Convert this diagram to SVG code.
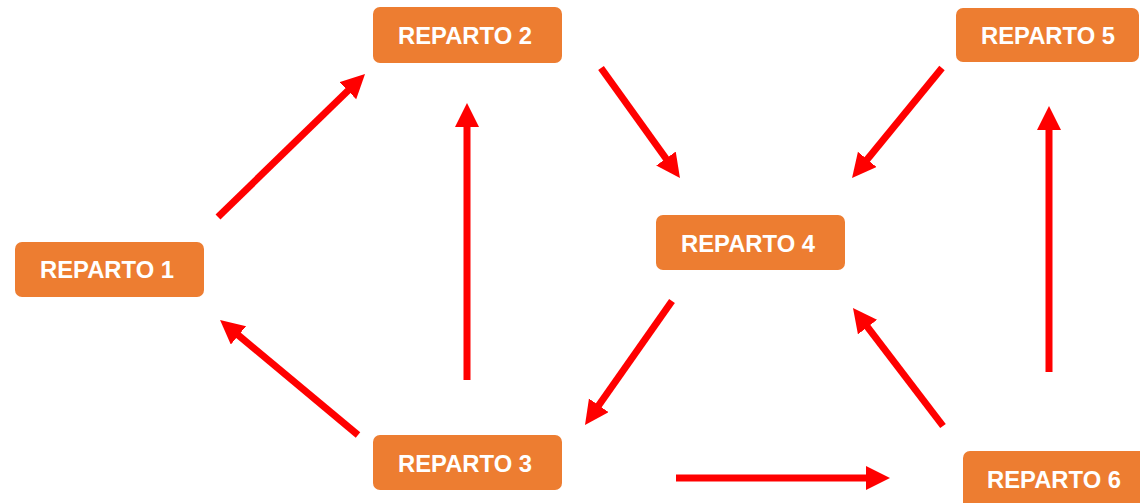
<svg xmlns="http://www.w3.org/2000/svg" width="1140" height="503" viewBox="0 0 1140 503">
  <style>
    .box { fill: #ED7D31; }
    .lbl { fill: #FFFFFF; font-family: "Liberation Sans", Arial, sans-serif; font-weight: bold; font-size: 23.8px; text-anchor: middle; }
    .arrow { stroke: #FF0000; stroke-width: 7; fill: none; marker-end: url(#head); }
  </style>
  <defs>
    <marker id="head" markerUnits="userSpaceOnUse" markerWidth="26" markerHeight="26" refX="4" refY="12" orient="auto">
      <path d="M0,0 L24,12 L0,24 z" fill="#FF0000"/>
    </marker>
  </defs>
  <rect width="1140" height="503" fill="#FFFFFF"/>

  <g id="connectors">
    <line class="arrow" x1="218" y1="217" x2="350.7" y2="87.9"/>
    <line class="arrow" x1="467" y1="380" x2="467" y2="123"/>
    <line class="arrow" x1="601" y1="68" x2="668.3" y2="161.8"/>
    <line class="arrow" x1="942" y1="68" x2="864.7" y2="162.5"/>
    <line class="arrow" x1="672" y1="301" x2="596.5" y2="408.6"/>
    <line class="arrow" x1="358" y1="435" x2="235.4" y2="332.8"/>
    <line class="arrow" x1="943" y1="426" x2="865.1" y2="323.9"/>
    <line class="arrow" x1="1049" y1="372" x2="1049" y2="126"/>
    <line class="arrow" x1="676" y1="478" x2="870" y2="478"/>
  </g>

  <g id="reparto1">
    <rect class="box" x="15" y="242" width="189" height="55" rx="7"/>
    <text class="lbl" x="107" y="278">REPARTO 1</text>
  </g>
  <g id="reparto2">
    <rect class="box" x="373" y="7" width="189" height="56" rx="7"/>
    <text class="lbl" x="465" y="44">REPARTO 2</text>
  </g>
  <g id="reparto3">
    <rect class="box" x="373" y="435" width="189" height="55" rx="7"/>
    <text class="lbl" x="465" y="471.5">REPARTO 3</text>
  </g>
  <g id="reparto4">
    <rect class="box" x="656" y="215" width="189" height="55" rx="7"/>
    <text class="lbl" x="748" y="251.5">REPARTO 4</text>
  </g>
  <g id="reparto5">
    <rect class="box" x="956" y="8" width="183" height="54" rx="7"/>
    <text class="lbl" x="1048" y="44">REPARTO 5</text>
  </g>
  <g id="reparto6">
    <rect class="box" x="963" y="451" width="185" height="58" rx="7"/>
    <text class="lbl" x="1054" y="487.5">REPARTO 6</text>
  </g>
</svg>
